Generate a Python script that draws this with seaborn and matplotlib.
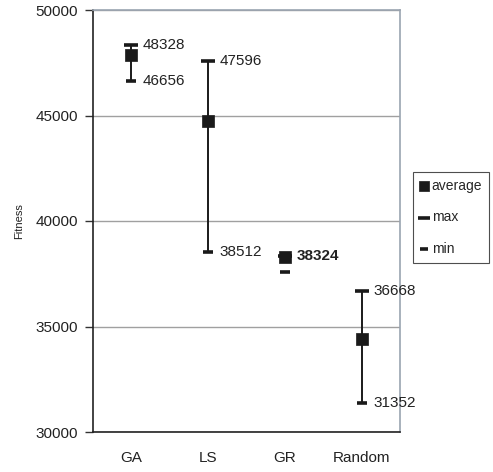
import pandas as pd
import matplotlib
matplotlib.use("Agg")
import matplotlib.pyplot as plt
import seaborn as sns

methods = ["GA", "LS", "GR", "Random"]
average = [47880, 44750, 38280, 34420]
maximum = [48328, 47596, 38324, 36668]
minimum = [46656, 38512, 37583, 31352]
max_labels = ["48328", "47596", "38324", "36668"]
min_labels = ["46656", "38512", None, "31352"]

df = pd.DataFrame({"method": methods, "average": average, "max": maximum, "min": minimum})
df["x"] = range(len(methods))

sns.set_theme(style="white")
plt.rcParams["font.family"] = ["Liberation Sans", "DejaVu Sans"]

fig = plt.figure(figsize=(4.93, 4.72), dpi=100)
ax = fig.add_axes([93 / 493, 40 / 472, 307 / 493, 422 / 472])

# ranges
for i, row in df.iterrows():
    if min_labels[i] is not None:
        ax.vlines(row["x"], row["min"], row["max"], color="#1a1a1a", linewidth=1.4, zorder=2)

sns.scatterplot(data=df, x="x", y="average", marker="s", s=70, color="#1a1a1a",
                edgecolor="#1a1a1a", linewidth=0.5, label="average", ax=ax, zorder=4)
sns.scatterplot(data=df, x="x", y="max", marker="_", s=110, color="#1a1a1a",
                linewidth=2.6, label="max", ax=ax, zorder=3)
sns.scatterplot(data=df, x="x", y="min", marker="_", s=45, color="#1a1a1a",
                linewidth=2.6, label="min", ax=ax, zorder=3)

for i, row in df.iterrows():
    weight = "bold" if min_labels[i] is None else "normal"
    ax.text(row["x"] + 0.15, row["max"], max_labels[i], fontsize=11,
            va="center", ha="left", color="#222222", fontweight=weight)
    if min_labels[i] is not None:
        ax.text(row["x"] + 0.15, row["min"], min_labels[i], fontsize=11,
                va="center", ha="left", color="#222222")

ax.set_xlim(-0.5, 3.5)
ax.set_ylim(30000, 50000)
ax.set_yticks([30000, 35000, 40000, 45000, 50000])
ax.set_xticks([0, 1, 2, 3])
ax.set_xticklabels(methods)
ax.set_xticks([0.5, 1.5, 2.5], minor=True)
ax.tick_params(axis="x", which="major", length=0, pad=14, labelsize=11, labelcolor="#222222")
ax.tick_params(axis="x", which="minor", direction="in", length=5, width=1, color="#333333")
ax.tick_params(axis="y", length=6, width=1, direction="out", left=True, pad=5,
               labelsize=11, labelcolor="#222222", color="#333333")
ax.yaxis.grid(True, color="#a0a0a0", linewidth=1)
ax.set_axisbelow(True)

ax.set_xlabel("")
ax.set_ylabel("Fitness", fontsize=8, color="#222222", labelpad=8)

ax.spines["left"].set_color("#222222")
ax.spines["bottom"].set_color("#222222")
ax.spines["top"].set_color("#9aa4b0")
ax.spines["right"].set_color("#9aa4b0")
for s in ax.spines.values():
    s.set_linewidth(1.2)

leg = ax.legend(loc="upper left", bbox_to_anchor=(413 / 493, 300 / 472),
                bbox_transform=fig.transFigure, frameon=True, fancybox=False,
                fontsize=10, markerscale=0.85, handlelength=0.6, handletextpad=0.25,
                labelspacing=1.25, borderpad=0.5, borderaxespad=0)
leg.get_frame().set_edgecolor("#222222")
leg.get_frame().set_linewidth(0.8)

fig.savefig("out.png", dpi=100)
